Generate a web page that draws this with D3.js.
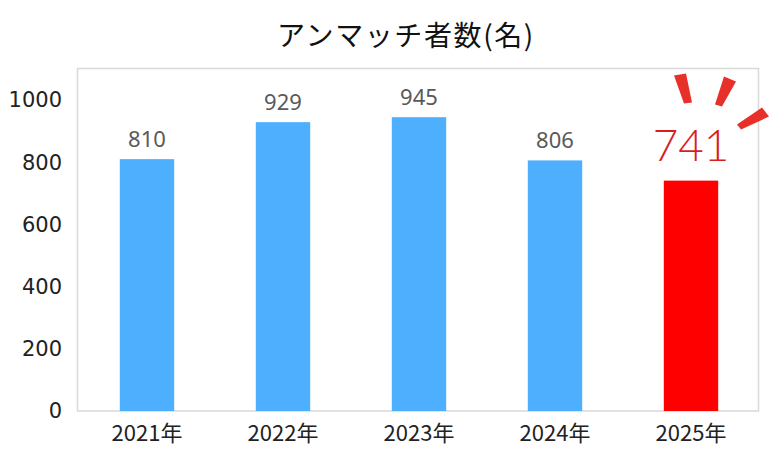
<!DOCTYPE html>
<html><head><meta charset="utf-8">
<script src="https://cdn.jsdelivr.net/npm/d3@7"></script>
<style>body{margin:0;background:#fff}svg{display:block}</style>
</head><body>
<script>
const categories = ["2021年","2022年","2023年","2024年","2025年"];
const values = [810, 929, 945, 806, 741];
const yTicks = [0, 200, 400, 600, 800, 1000];
const title = "アンマッチ者数(名)";
const highlightIndex = 4;

const W = 779, H = 464;
const svg = d3.select("body").append("svg").attr("width", W).attr("height", H);

const x = d3.scaleBand().domain(categories).range([79, 759]).paddingInner(0.6).paddingOuter(0.3);
const y = d3.scaleLinear().domain([0, 1100]).range([411, 69]);

svg.append("text").attr("x", 406).attr("y", 46).attr("text-anchor", "middle")
  .attr("font-family", "'Noto Sans CJK JP', sans-serif").attr("font-size", 28).attr("fill", "#111")
  .attr("letter-spacing", 1.6)
  .text(title);

// plot frame
svg.append("rect").attr("x", 77.5).attr("y", 68.5).attr("width", 681).attr("height", 342.5)
  .attr("fill", "none").attr("stroke", "#d9d9d9").attr("stroke-width", 1.5);

// y axis
const ya = svg.append("g").attr("transform", "translate(62,0)")
  .call(d3.axisLeft(y).tickValues(yTicks).tickFormat(d3.format("d")).tickSize(0).tickPadding(0));
ya.select(".domain").remove();
ya.selectAll("text").attr("font-family", "'DejaVu Sans', sans-serif").attr("font-size", 21).attr("fill", "#222");

// x axis
const xa = svg.append("g").attr("transform", "translate(0,411)")
  .call(d3.axisBottom(x).tickSize(0).tickPadding(14));
xa.select(".domain").remove();
xa.selectAll("text").attr("font-family", "'Noto Sans CJK JP', sans-serif").attr("font-size", 22).attr("fill", "#222");

// bars
svg.selectAll("rect.bar").data(values).enter().append("rect").attr("class", "bar")
  .attr("x", (d, i) => x(categories[i]))
  .attr("width", x.bandwidth())
  .attr("y", d => y(d))
  .attr("height", d => y(0) - y(d))
  .attr("fill", (d, i) => i === highlightIndex ? "#ff0000" : "#4daffe");

// labels
svg.selectAll("text.lbl").data(values).enter().append("text").attr("class", "lbl")
  .attr("x", (d, i) => x(categories[i]) + x.bandwidth() / 2)
  .attr("y", (d, i) => i === highlightIndex ? y(d) - 20 : y(d) - 12)
  .attr("text-anchor", "middle")
  .attr("font-family", (d, i) => i === highlightIndex ? "Lato, sans-serif" : "'Noto Sans', sans-serif")
  .attr("font-weight", (d, i) => i === highlightIndex ? 300 : 400)
  .attr("font-size", (d, i) => i === highlightIndex ? 44 : 22)
  .attr("fill", (d, i) => i === highlightIndex ? "#d81e1e" : "#595959")
  .text(d => d);

// burst marks near highlight label
const cx = x(categories[highlightIndex]) + x.bandwidth() / 2;
const by = y(values[highlightIndex]);
const strokes = [
  [[-17, -105], [-5, -107], [1, -78], [-7, -77]],
  [[33, -104], [45, -99], [31, -74], [24, -76]],
  [[71, -73], [78, -64], [50, -51], [46, -56]]
];
svg.selectAll("path.burst").data(strokes).enter().append("path").attr("class", "burst")
  .attr("d", s => "M" + s.map(p => [cx + p[0], by + p[1]].join(",")).join("L") + "Z")
  .attr("fill", "#e8302a");
</script>
</body></html>
